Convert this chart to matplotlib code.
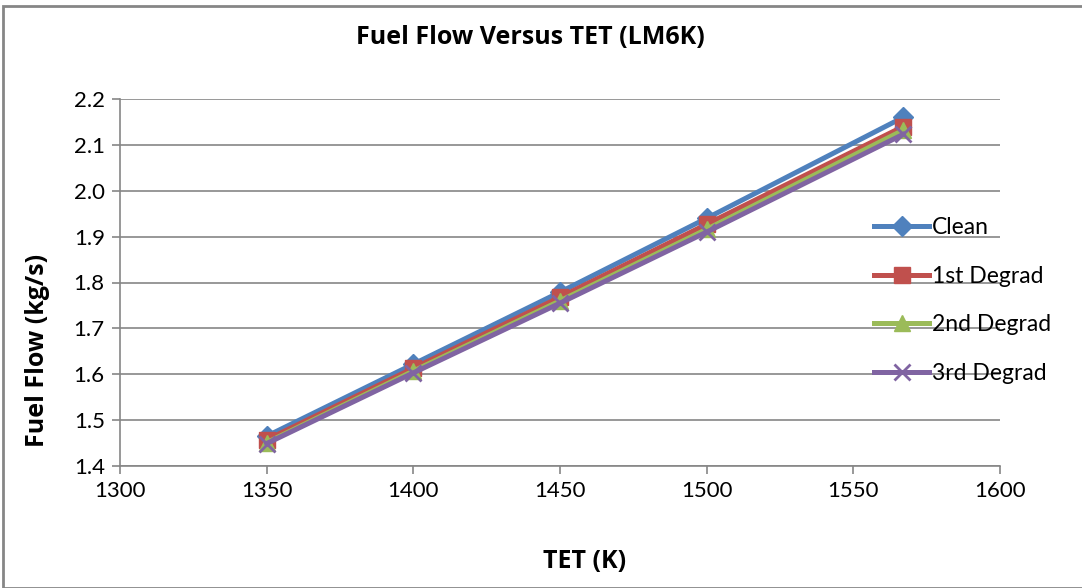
import numpy as np
import matplotlib.pyplot as plt
from matplotlib.patches import Rectangle

plt.rcParams['font.family'] = ['Lato', 'DejaVu Sans']

tet = [1350, 1400, 1450, 1500, 1567]
clean = [1.465, 1.622, 1.779, 1.940, 2.160]
degrad1 = [1.457, 1.613, 1.768, 1.927, 2.140]
degrad2 = [1.451, 1.607, 1.760, 1.916, 2.132]
degrad3 = [1.449, 1.603, 1.755, 1.910, 2.123]

series = [
    ('Clean', clean, '#4F81BD', 'D', 10),
    ('1st Degrad', degrad1, '#C0504D', 's', 11),
    ('2nd Degrad', degrad2, '#9BBB59', '^', 11),
    ('3rd Degrad', degrad3, '#8064A2', 'x', 11),
]

fig = plt.figure(figsize=(10.82, 5.88), dpi=100)
ax = fig.add_axes([120 / 1082, 1 - 466 / 588, 880 / 1082, 367 / 588])

for name, vals, col, mk, ms in series:
    ax.plot(tet, vals, color=col, lw=3.6, marker=mk, markersize=ms,
            markeredgecolor=col, markeredgewidth=2 if mk == 'x' else 1,
            label=name, zorder=3)

ax.set_xlim(1300, 1600)
ax.set_ylim(1.4, 2.2)
ax.set_xticks(np.arange(1300, 1601, 50))
ax.set_yticks(np.arange(1.4, 2.21, 0.1))
ax.set_yticklabels(['%.1f' % v for v in np.arange(1.4, 2.21, 0.1)])
ax.tick_params(labelsize=16, colors='#868686', labelcolor='black',
               length=6, width=1.2, pad=5)
ax.yaxis.grid(True, color='#868686', lw=1.2)
ax.set_axisbelow(True)
for s in ['top', 'right']:
    ax.spines[s].set_visible(False)
for s in ['left', 'bottom']:
    ax.spines[s].set_color('#868686')
    ax.spines[s].set_linewidth(1.2)

bold = dict(family=['Open Sans', 'DejaVu Sans'], fontweight='bold')
fig.text(530 / 1082, 1 - 38 / 588, 'Fuel Flow Versus TET (LM6K)',
         ha='center', va='center', fontsize=18, **bold)
fig.text(585 / 1082, 1 - 562 / 588, 'TET (K)', ha='center', va='center',
         fontsize=18, **bold)
fig.text(38 / 1082, 1 - 350 / 588, 'Fuel Flow (kg/s)', ha='center',
         va='center', rotation=90, fontsize=18, **bold)

fig.legend(loc='upper left', bbox_to_anchor=(863 / 1082, 1 - 206 / 588),
           frameon=False, fontsize=16.5, handlelength=2.4, handletextpad=0.1,
           labelspacing=1.2, borderpad=0)

fig.patches.append(Rectangle((3 / 1082, 0), 1.2, 1 - 6 / 588,
                             transform=fig.transFigure, fill=False,
                             edgecolor='#868686', lw=2))

fig.savefig('out.png', dpi=100)
